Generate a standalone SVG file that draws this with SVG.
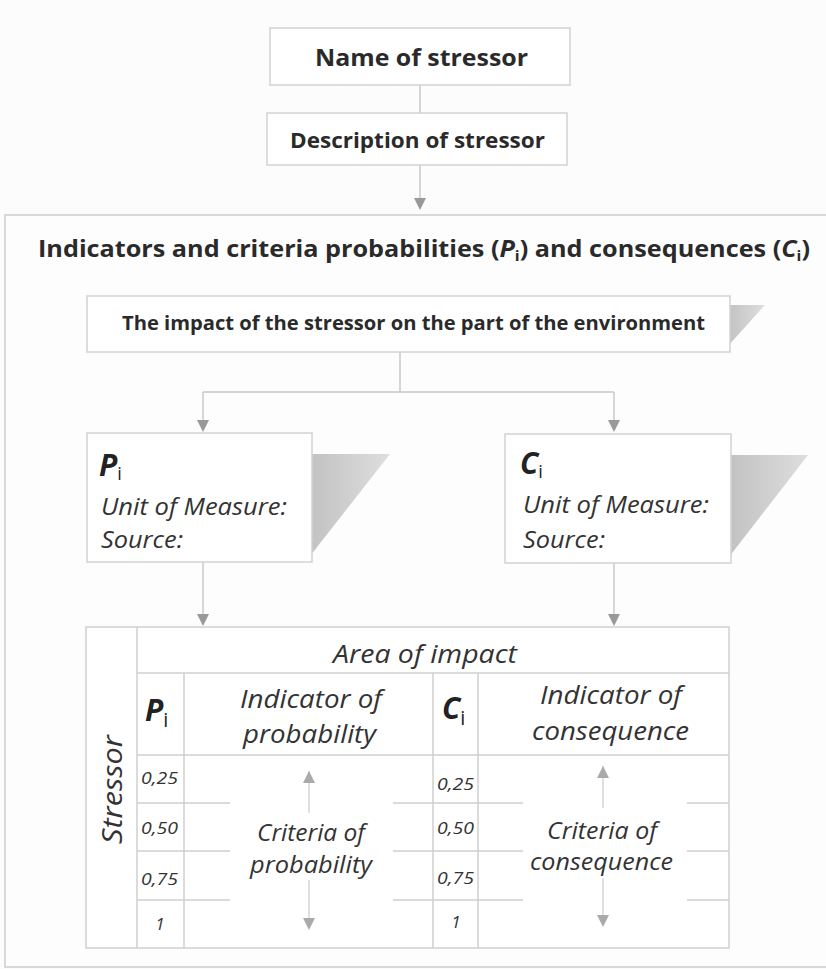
<svg xmlns="http://www.w3.org/2000/svg" width="826" height="969" viewBox="0 0 826 969">
<defs>
<style>
.box{fill:#ffffff;stroke:#d2d2d2;stroke-width:1.5}
.ln{fill:none;stroke:#c8c8c8;stroke-width:1.5}
.tl{fill:none;stroke:#d0d0d0;stroke-width:1.5}
.ah{fill:#999999}
.b{font-family:"Open Sans",Lato,sans-serif;font-weight:bold;fill:#2a2a2a}
.i{font-family:"Open Sans",Lato,sans-serif;font-style:italic;fill:#333333}
.bi{font-family:"Open Sans",Lato,sans-serif;font-style:italic;font-weight:bold;fill:#222222}
.sh{fill:url(#shg)}
</style>
<linearGradient id="shg" x1="0" y1="0" x2="1" y2="0">
<stop offset="0" stop-color="#c2c2c2"/>
<stop offset="1" stop-color="#dedede"/>
</linearGradient>
</defs>
<rect x="0" y="0" width="826" height="969" fill="#fcfcfc"/>
<rect id="container" x="5" y="215" width="840" height="752" fill="#fdfdfd" stroke="#d8d8d8" stroke-width="2"/>

<g id="connectors">
<line class="ln" x1="420" y1="85" x2="420" y2="113"/>
<line class="ln" x1="420" y1="165" x2="420" y2="200"/>
<polygon class="ah" points="414,198 426,198 420,210"/>
<path class="ln" d="M400,352 V392 M203,392 H614"/>
<line class="ln" x1="203" y1="392" x2="203" y2="422"/>
<polygon class="ah" points="197,420 209,420 203,432"/>
<line class="ln" x1="614" y1="392" x2="614" y2="422"/>
<polygon class="ah" points="608,420 620,420 614,432"/>
<line class="ln" x1="203" y1="562" x2="203" y2="616"/>
<polygon class="ah" points="197,614 209,614 203,626"/>
<line class="ln" x1="614" y1="563" x2="614" y2="616"/>
<polygon class="ah" points="608,614 620,614 614,626"/>
</g>

<g id="name-of-stressor">
<rect class="box" x="270" y="28" width="300" height="57"/>
<text class="b" x="315" y="66" font-size="24" textLength="213" lengthAdjust="spacingAndGlyphs">Name of stressor</text>
</g>

<g id="description-of-stressor">
<rect class="box" x="267" y="113" width="300" height="52"/>
<text class="b" x="290" y="148" font-size="21" textLength="255" lengthAdjust="spacingAndGlyphs">Description of stressor</text>
</g>

<g id="title">
<text class="b" x="38" y="257" font-size="24" textLength="772" lengthAdjust="spacingAndGlyphs">Indicators and criteria probabilities (<tspan font-style="italic">P</tspan><tspan font-size="15" dy="4">i</tspan><tspan dy="-4">) and consequences (</tspan><tspan font-style="italic">C</tspan><tspan font-size="15" dy="4">i</tspan><tspan dy="-4">)</tspan></text>
</g>

<g id="impact">
<polygon class="sh" points="728,305 765,305 728,346"/>
<rect class="box" x="87" y="296" width="643" height="56"/>
<text class="b" x="122" y="330" font-size="19" textLength="583" lengthAdjust="spacingAndGlyphs">The impact of the stressor on the part of the environment</text>
</g>

<g id="pi-box">
<polygon class="sh" points="310,454 390,454 310,556"/>
<rect class="box" x="87" y="433" width="225" height="129"/>
<text class="bi" x="99" y="476" font-size="30">P<tspan font-style="normal" font-weight="normal" font-size="18" dy="4">i</tspan></text>
<text class="i" x="101" y="515" font-size="24" textLength="186" lengthAdjust="spacingAndGlyphs">Unit of Measure:</text>
<text class="i" x="101" y="548" font-size="24" textLength="82" lengthAdjust="spacingAndGlyphs">Source:</text>
</g>

<g id="ci-box">
<polygon class="sh" points="729,455 808,455 729,557"/>
<rect class="box" x="505" y="434" width="226" height="129"/>
<text class="bi" x="520" y="474" font-size="30">C<tspan font-style="normal" font-weight="normal" font-size="18" dy="4">i</tspan></text>
<text class="i" x="523" y="513" font-size="24" textLength="186" lengthAdjust="spacingAndGlyphs">Unit of Measure:</text>
<text class="i" x="523" y="548" font-size="24" textLength="82" lengthAdjust="spacingAndGlyphs">Source:</text>
</g>

<g id="table">
<rect x="86" y="627" width="643" height="321" fill="#ffffff" stroke="#d0d0d0" stroke-width="1.5"/>
<path class="tl" d="M137,627 V948 M137,673 H729 M137,755 H729 M184,673 V948 M433,673 V948 M478,673 V948"/>
<path class="tl" d="M137,803 H230 M137,851 H230 M137,900 H230 M393,803 H523 M393,851 H523 M393,900 H523 M687,803 H729 M687,851 H729 M687,900 H729"/>
<text class="i" transform="translate(122,844) rotate(-90)" font-size="28" textLength="109" lengthAdjust="spacingAndGlyphs">Stressor</text>
<text class="i" x="333" y="663" font-size="26" textLength="184" lengthAdjust="spacingAndGlyphs">Area of impact</text>
<text class="bi" x="145" y="721" font-size="30">P<tspan font-style="normal" font-weight="normal" font-size="20" dy="6">i</tspan></text>
<text class="bi" x="442" y="719" font-size="30">C<tspan font-style="normal" font-weight="normal" font-size="20" dy="6">i</tspan></text>
<text class="i" x="240" y="708" font-size="26" textLength="142" lengthAdjust="spacingAndGlyphs">Indicator of</text>
<text class="i" x="243" y="743" font-size="26" textLength="133" lengthAdjust="spacingAndGlyphs">probability</text>
<text class="i" x="540" y="704" font-size="26" textLength="142" lengthAdjust="spacingAndGlyphs">Indicator of</text>
<text class="i" x="532" y="740" font-size="26" textLength="157" lengthAdjust="spacingAndGlyphs">consequence</text>
<g font-size="17">
<text class="i" x="141" y="784" textLength="37" lengthAdjust="spacingAndGlyphs">0,25</text>
<text class="i" x="141" y="834" textLength="37" lengthAdjust="spacingAndGlyphs">0,50</text>
<text class="i" x="141" y="885" textLength="37" lengthAdjust="spacingAndGlyphs">0,75</text>
<text class="i" x="160" y="930" text-anchor="middle">1</text>
<text class="i" x="437" y="790" textLength="37" lengthAdjust="spacingAndGlyphs">0,25</text>
<text class="i" x="437" y="834" textLength="37" lengthAdjust="spacingAndGlyphs">0,50</text>
<text class="i" x="437" y="884" textLength="37" lengthAdjust="spacingAndGlyphs">0,75</text>
<text class="i" x="456" y="928" text-anchor="middle">1</text>
</g>
<text class="i" x="257" y="841" font-size="24" textLength="108" lengthAdjust="spacingAndGlyphs">Criteria of</text>
<text class="i" x="250" y="873" font-size="24" textLength="122" lengthAdjust="spacingAndGlyphs">probability</text>
<text class="i" x="547" y="839" font-size="24" textLength="110" lengthAdjust="spacingAndGlyphs">Criteria of</text>
<text class="i" x="530" y="870" font-size="24" textLength="143" lengthAdjust="spacingAndGlyphs">consequence</text>
<path d="M309,771 V813 M309,880 V922" stroke="#cccccc" stroke-width="1.2" fill="none"/>
<polygon points="309,771 303,783 315,783" fill="#aaaaaa"/>
<polygon points="309,930 303,918 315,918" fill="#aaaaaa"/>
<path d="M603,766 V808 M603,878 V919" stroke="#cccccc" stroke-width="1.2" fill="none"/>
<polygon points="603,766 597,778 609,778" fill="#aaaaaa"/>
<polygon points="603,927 597,915 609,915" fill="#aaaaaa"/>
</g>
</svg>
